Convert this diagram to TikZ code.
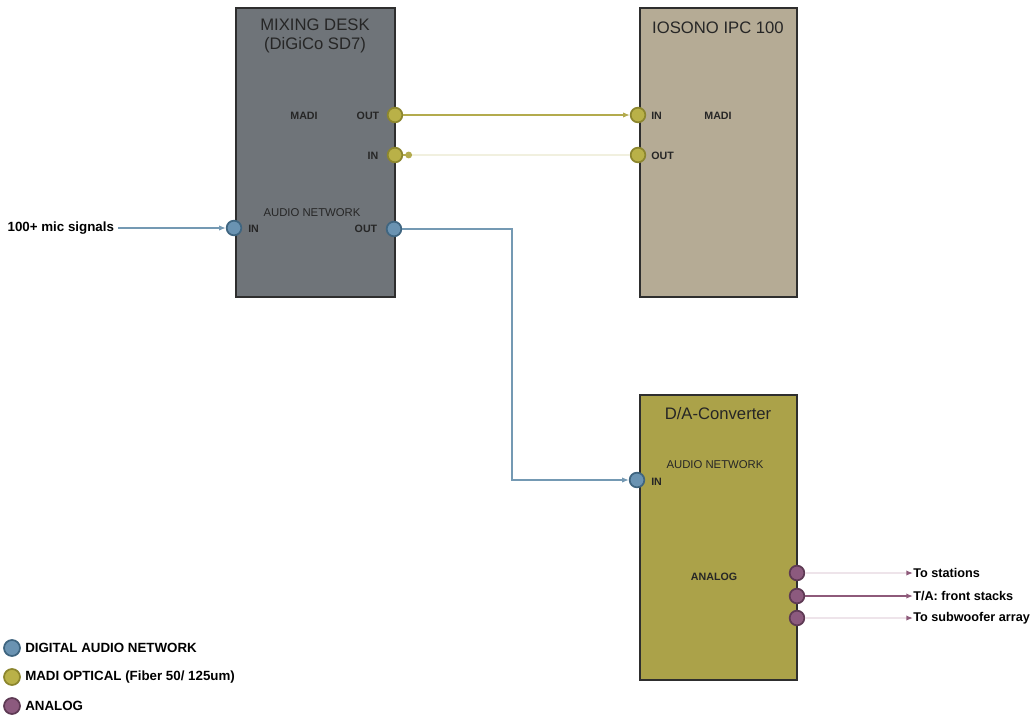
\documentclass[tikz,border=0pt]{standalone}
\usepackage{fontspec}
\setmainfont{Liberation Sans}
\usetikzlibrary{arrows.meta}
\definecolor{deskgray}{HTML}{6F7479}
\definecolor{tanbox}{HTML}{B5AB95}
\definecolor{olivebox}{HTML}{ABA249}
\definecolor{boxborder}{HTML}{2E2E2E}
\definecolor{bluep}{HTML}{6A93B2}
\definecolor{bluedark}{HTML}{3F6580}
\definecolor{blueline}{HTML}{7499B3}
\definecolor{olivep}{HTML}{B9B148}
\definecolor{olivedark}{HTML}{8C862E}
\definecolor{oliveline}{HTML}{B3AB4E}
\definecolor{palecream}{HTML}{F1F0DF}
\definecolor{purplep}{HTML}{8C5A7E}
\definecolor{purpledark}{HTML}{5E3A54}
\definecolor{purpleline}{HTML}{8E5A7A}
\definecolor{palepink}{HTML}{EEE4EA}
\begin{document}
\begin{tikzpicture}[x=0.75pt,y=-0.75pt,
  box/.style={draw=boxborder, line width=1.9pt, inner sep=0pt, outer sep=0pt},
  ttl/.style={font=\fontsize{12.5}{14.5}\selectfont, text=black!85, align=center, inner sep=0pt},
  lbl/.style={font=\bfseries\fontsize{8}{10}\selectfont, text=black!85, inner sep=0pt},
  blbl/.style={font=\bfseries\fontsize{9.5}{11}\selectfont, inner sep=0pt},
  leg/.style={font=\bfseries\fontsize{10}{11}\selectfont, inner sep=0pt, anchor=west},
  port/.style={circle, line width=1.3pt, minimum size=11pt, inner sep=0pt},
  bport/.style={port, fill=bluep, draw=bluedark},
  oport/.style={port, fill=olivep, draw=olivedark},
  pport/.style={port, fill=purplep, draw=purpledark},
  bconn/.style={draw=blueline, line width=1.4pt},
  oconn/.style={draw=oliveline, line width=1.4pt},
  tip/.style={-{Latex[length=5pt,width=4pt]}}
]
\useasboundingbox (0,0) rectangle (1034,721);
\fill[white] (0,0) rectangle (1034,721);

% boxes
\node[box, fill=deskgray, minimum width=119.25pt, minimum height=216.75pt] (desk) at (315.5,152.5) {};
\node[box, fill=tanbox, minimum width=117.75pt, minimum height=216.75pt] (iosono) at (718.5,152.5) {};
\node[box, fill=olivebox, minimum width=117.75pt, minimum height=213.75pt] (dac) at (718.5,537.5) {};

% titles
\node[ttl] (deskt) at (315,36) {MIXING DESK\\(DiGiCo SD7)};
\node[ttl] (iosonot) at (718,28) {IOSONO IPC 100};
\node[ttl] (dact) at (718,414) {D/A-Converter};

% inner labels
\node[lbl] (dmadi) at (304,116) {MADI};
\node[lbl] (dout) at (368,116) {OUT};
\node[lbl] (din) at (373,156) {IN};
\node[lbl, font=\fontsize{8.5}{10}\selectfont] (danet) at (312,213) {AUDIO NETWORK};
\node[lbl, anchor=west] (dain) at (248,229) {IN};
\node[lbl] (daout) at (366,229) {OUT};
\node[lbl, anchor=west] (iin) at (651,116) {IN};
\node[lbl] (imadi) at (718,116) {MADI};
\node[lbl, anchor=west] (iout) at (651,156) {OUT};
\node[lbl, font=\fontsize{8.5}{10}\selectfont] (canet) at (715,465) {AUDIO NETWORK};
\node[lbl, anchor=west] (cin) at (651,482) {IN};
\node[lbl] (cana) at (714,577) {ANALOG};

% ports
\node[oport] (dmo) at (395,115) {};
\node[oport] (dmi) at (395,155) {};
\node[bport] (dai) at (234,228) {};
\node[bport] (dao) at (394,229) {};
\node[oport] (ii) at (638,115) {};
\node[oport] (io) at (638,155) {};
\node[bport] (cai) at (637,480) {};
\node[pport] (ca1) at (797,573) {};
\node[pport] (ca2) at (797,596) {};
\node[pport] (ca3) at (797,618) {};

% external texts
\node[blbl, anchor=east, font=\bfseries\fontsize{10}{11}\selectfont, outer sep=3pt] (mic) at (118,228) {100+ mic signals};
\node[blbl, anchor=west] (to1) at (913,573) {To stations};
\node[blbl, anchor=west] (to2) at (913,596) {T/A: front stacks};
\node[blbl, anchor=west] (to3) at (913,618) {To subwoofer array};

% connectors
\draw[bconn, tip] (mic) -- (dai);
\draw[bconn, tip] (dao) -- (512,229) |- (cai);
\draw[oconn, tip] (dmo) -- (ii);
\draw[draw=palecream, line width=1.4pt] (io) -- (412,155);
\coordinate (retdot) at (412,155);
\draw[oconn, {Circle[length=5pt]}-] (retdot) -- (dmi);
\draw[draw=palepink, line width=1.4pt, -{Latex[length=5pt,width=4pt,color=purpleline]}] (ca1) -- (to1);
\draw[draw=purpleline, line width=1.4pt, tip] (ca2) -- (to2);
\draw[draw=palepink, line width=1.4pt, -{Latex[length=5pt,width=4pt,color=purpleline]}] (ca3) -- (to3);

% legend
\node[bport, minimum size=12pt] (lg1) at (12,648) {};
\node[oport, minimum size=12pt] (lg2) at (12,677) {};
\node[pport, minimum size=12pt] (lg3) at (12,706) {};
\node[leg] (lt1) at (25,648) {DIGITAL AUDIO NETWORK};
\node[leg] (lt2) at (25,677) {MADI OPTICAL (Fiber 50/ 125um)};
\node[leg] (lt3) at (25,706) {ANALOG};
\end{tikzpicture}
\end{document}
